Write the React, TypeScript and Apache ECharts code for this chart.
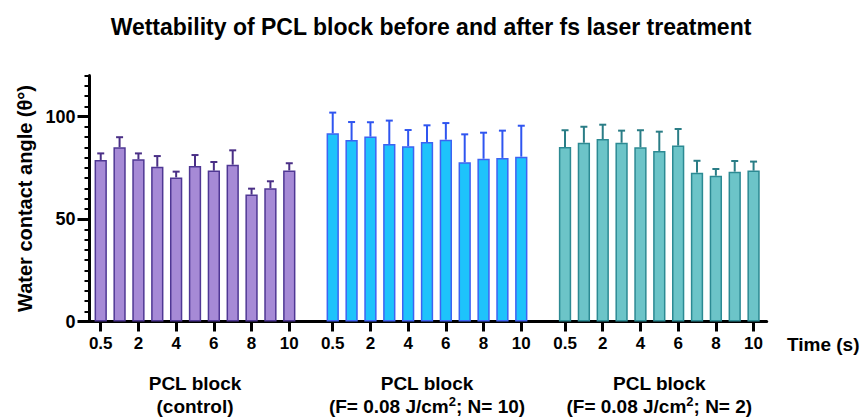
import React, { useEffect, useRef } from "react";
import * as echarts from "echarts";

const times = ["0.5", "1", "2", "3", "4", "5", "6", "7", "8", "9", "10"];
const controlMean = [78.8, 85.0, 79.1, 75.5, 70.3, 75.9, 73.6, 76.5, 61.9, 65.0, 73.7];
const controlSD = [3.2, 4.9, 2.9, 5.2, 2.8, 5.3, 4.2, 7.0, 2.9, 3.4, 3.5];
const n10Mean = [91.8, 88.5, 90.2, 86.6, 85.5, 87.6, 88.7, 77.7, 79.4, 79.8, 80.4];
const n10SD = [10.1, 8.8, 7.0, 11.4, 7.9, 8.1, 8.1, 13.6, 12.7, 13.3, 15.1];
const n2Mean = [85.1, 87.2, 89.0, 87.2, 85.0, 83.2, 85.8, 72.6, 71.1, 73.1, 73.6];
const n2SD = [8.2, 7.8, 7.0, 5.9, 8.3, 9.4, 8.1, 5.8, 3.3, 5.2, 4.4];
const groupLabels = [
  "PCL block\n(control)",
  "PCL block\n(F= 0.08 J/cm{sup|2}; N= 10)",
  "PCL block\n(F= 0.08 J/cm{sup|2}; N= 2)",
];
const yMajorTicks = [0, 50, 100];

const FONT = "'Liberation Sans', Arial, Helvetica, sans-serif";

export default function App() {
  const ref = useRef<HTMLDivElement>(null);
  useEffect(() => {
    if (!ref.current) return;
    const chart = echarts.init(ref.current, undefined, { renderer: "svg" });
    const top = 75.5;
    const bottom = 96.5;
    const gridLefts = [91.3, 323.3, 555.6];
    const gridWidth = 207.4;
    const means = [controlMean, n10Mean, n2Mean];
    const sds = [controlSD, n10SD, n2SD];
    const fills = ["#a68ad6", "#1ec3fb", "#6cc4c8"];
    const borders = ["#4f3794", "#3d63f2", "#2c8a93"];
    const errColors = ["#4a2f86", "#2f55f0", "#2a7d86"];

    const grids: any[] = gridLefts.map((l) => ({
      left: l,
      width: gridWidth,
      top,
      bottom,
      containLabel: false,
      outerBoundsMode: "none",
    }));
    grids.push({ left: 89.5, right: 95.3, top, bottom, containLabel: false, outerBoundsMode: "none" });

    const xAxes: any[] = gridLefts.map((_, g) => ({
      type: "category",
      gridIndex: g,
      data: times,
      boundaryGap: true,
      axisLine: { show: false },
      axisTick: {
        show: true,
        alignWithLabel: true,
        interval: (i: number) => i % 2 === 0,
        length: 10,
        lineStyle: { color: "#000", width: 3 },
      },
      axisLabel: {
        interval: (i: number) => i % 2 === 0,
        margin: 13,
        fontSize: 17,
        fontWeight: "bold",
        fontFamily: FONT,
        color: "#000",
      },
      splitLine: { show: false },
      name: groupLabels[g],
      nameLocation: "middle",
      nameGap: 50,
      nameTextStyle: {
        fontSize: 19,
        fontWeight: "bold",
        fontFamily: FONT,
        color: "#000",
        lineHeight: 23,
        rich: {
          sup: {
            fontSize: 13,
            fontWeight: "bold",
            fontFamily: FONT,
            color: "#000",
            lineHeight: 14,
            verticalAlign: "top",
          },
        },
      },
    }));
    xAxes.push({
      type: "value",
      gridIndex: 3,
      min: 0,
      max: 1,
      axisLine: { show: true, lineStyle: { color: "#000", width: 3 } },
      axisTick: { show: false },
      axisLabel: { show: false },
      splitLine: { show: false },
    });

    const yAxes: any[] = gridLefts.map((_, g) => ({
      type: "value",
      gridIndex: g,
      min: 0,
      max: 120,
      show: false,
      splitLine: { show: false },
    }));
    yAxes.push({
      type: "value",
      gridIndex: 3,
      min: 0,
      max: 120,
      interval: 5,
      axisLine: { show: true, lineStyle: { color: "#000", width: 3 } },
      axisTick: { show: true, length: 5, lineStyle: { color: "#000", width: 2 } },
      axisLabel: { show: false },
      splitLine: { show: false },
    });
    yAxes.push({
      type: "value",
      gridIndex: 3,
      min: 0,
      max: 120,
      interval: 50,
      position: "left",
      axisLine: { show: false },
      axisTick: {
        show: true,
        length: 12,
        customValues: yMajorTicks,
        lineStyle: { color: "#000", width: 3 },
      },
      axisLabel: {
        customValues: yMajorTicks,
        margin: 14,
        fontSize: 18,
        fontWeight: "bold",
        fontFamily: FONT,
        color: "#000",
      },
      splitLine: { show: false },
      name: "Water contact angle (θ°)",
      nameLocation: "middle",
      nameRotate: 90,
      nameGap: 53,
      nameTextStyle: { fontSize: 20, fontWeight: "bold", fontFamily: FONT, color: "#000" },
    });

    const series: any[] = [];
    for (let g = 0; g < 3; g++) {
      series.push({
        type: "bar",
        xAxisIndex: g,
        yAxisIndex: g,
        data: means[g],
        barWidth: 12.3,
        itemStyle: { color: fills[g], borderColor: borders[g], borderWidth: 1.5 },
        z: 2,
      });
      const col = errColors[g];
      series.push({
        type: "custom",
        xAxisIndex: g,
        yAxisIndex: g,
        data: means[g].map((m, i) => [i, m, sds[g][i]]),
        encode: { x: 0, y: 1 },
        clip: false,
        z: 3,
        renderItem: (params: any, api: any) => {
          const i = api.value(0);
          const m = api.value(1);
          const e = api.value(2);
          const b = api.coord([i, m]);
          const t = api.coord([i, m + e]);
          return {
            type: "group",
            children: [
              { type: "line", shape: { x1: b[0], y1: b[1], x2: t[0], y2: t[1] }, style: { stroke: col, lineWidth: 2 } },
              { type: "line", shape: { x1: t[0] - 3.5, y1: t[1], x2: t[0] + 3.5, y2: t[1] }, style: { stroke: col, lineWidth: 2 } },
            ],
          };
        },
      });
    }

    chart.setOption({
      animation: false,
      backgroundColor: "#fff",
      title: {
        text: "Wettability of PCL block before and after fs laser treatment",
        left: "center",
        top: 15,
        padding: 0,
        textStyle: { fontSize: 23, fontWeight: "bold", fontFamily: FONT, color: "#000" },
      },
      grid: grids,
      xAxis: xAxes,
      yAxis: yAxes,
      series,
      graphic: [
        {
          type: "text",
          left: 787,
          top: 335,
          style: { text: "Time (s)", fontSize: 19, fontWeight: "bold", fontFamily: FONT, fill: "#000" },
        },
      ],
    });
    return () => chart.dispose();
  }, []);
  return <div ref={ref} style={{ position: "absolute", left: 0, top: 0, width: 862, height: 418 }} />;
}
